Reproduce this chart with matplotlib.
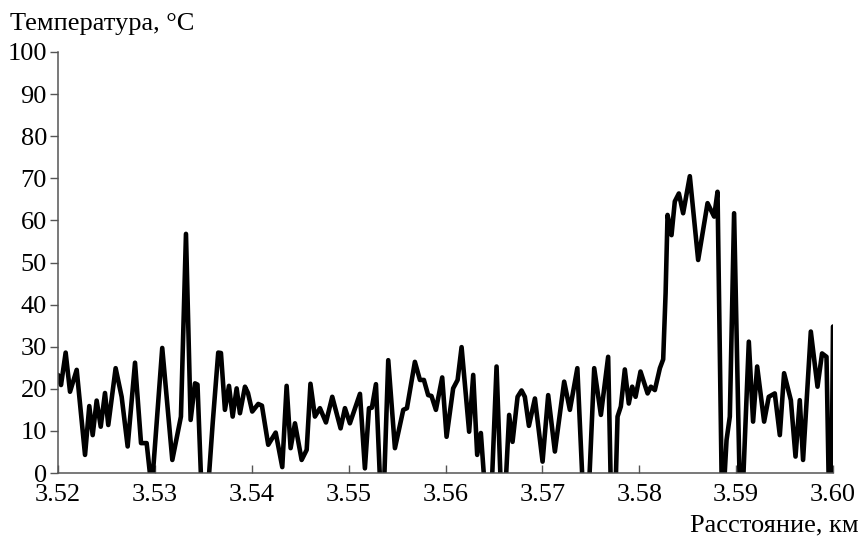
import matplotlib
matplotlib.use("Agg")
import matplotlib.pyplot as plt

plt.rcParams['font.family'] = ['Liberation Serif', 'DejaVu Serif']

# --- Профиль температуры (км, °C) ---
distance_km = [
    3.52000, 3.52031, 3.52079, 3.52124, 3.52193, 3.52279, 3.52323, 3.52358,
    3.52399, 3.52441, 3.52485, 3.52519, 3.52595, 3.52657, 3.52719, 3.52795,
    3.52857, 3.52915, 3.52967, 3.53076, 3.53180, 3.53269, 3.53321, 3.53369,
    3.53414, 3.53440, 3.53481, 3.53548, 3.53597, 3.53654, 3.53682, 3.53723,
    3.53765, 3.53803, 3.53844, 3.53878, 3.53930, 3.53961, 3.54005, 3.54067,
    3.54105, 3.54170, 3.54247, 3.54315, 3.54360, 3.54401, 3.54446, 3.54515,
    3.54567, 3.54606, 3.54652, 3.54704, 3.54766, 3.54831, 3.54917, 3.54962,
    3.55013, 3.55117, 3.55168, 3.55210, 3.55240, 3.55282, 3.55328, 3.55364,
    3.55409, 3.55478, 3.55564, 3.55602, 3.55684, 3.55736, 3.55777, 3.55821,
    3.55855, 3.55901, 3.55966, 3.56011, 3.56079, 3.56125, 3.56166, 3.56244,
    3.56286, 3.56327, 3.56365, 3.56407, 3.56476, 3.56527, 3.56572, 3.56618,
    3.56657, 3.56692, 3.56744, 3.56785, 3.56819, 3.56861, 3.56923, 3.57002,
    3.57060, 3.57129, 3.57225, 3.57284, 3.57361, 3.57418, 3.57480, 3.57535,
    3.57604, 3.57679, 3.57707, 3.57755, 3.57776, 3.57810, 3.57851, 3.57892,
    3.57927, 3.57962, 3.58013, 3.58086, 3.58120, 3.58161, 3.58213, 3.58247,
    3.58272, 3.58292, 3.58333, 3.58367, 3.58409, 3.58453, 3.58522, 3.58608,
    3.58705, 3.58773, 3.58808, 3.58852, 3.58873, 3.58901, 3.58935, 3.58979,
    3.59038, 3.59069, 3.59131, 3.59175, 3.59217, 3.59289, 3.59337, 3.59399,
    3.59451, 3.59495, 3.59565, 3.59613, 3.59657, 3.59691, 3.59771, 3.59840,
    3.59887, 3.59933, 3.59957, 3.59985, 3.60000,
]
temperature = [
    23.3, 20.9, 28.6, 19.3, 24.5, 4.3, 15.9, 9.0,
    17.2, 11.0, 19.0, 11.4, 24.9, 18.1, 6.3, 26.2,
    7.1, 7.1, -4, 29.7, 3.1, 13.4, 56.8, 12.6,
    21.3, 21.0, -4, -4, 11.9, 28.6, 28.5, 15.0,
    20.7, 13.4, 20.1, 14.2, 20.5, 19.0, 14.6, 16.4,
    16.0, 6.7, 9.6, 1.4, 20.7, 5.9, 11.8, 3.1,
    5.5, 21.2, 13.4, 15.4, 12.0, 18.1, 10.6, 15.4,
    11.8, 18.8, 1.1, 15.4, 15.5, 21.1, -4, -4,
    26.8, 5.9, 15.0, 15.4, 26.4, 22.1, 22.1, 18.5,
    18.3, 15.0, 22.7, 8.6, 20.1, 22.1, 29.9, 9.8,
    23.3, 4.3, 9.5, -4, -4, 25.3, -4, -4,
    13.8, 7.4, 18.1, 19.6, 18.1, 11.2, 17.7, 2.7,
    18.5, 5.1, 21.7, 15.0, 24.9, -4, -4, 24.9,
    13.8, 27.6, -4, -4, 13.4, 15.8, 24.6, 16.5,
    20.5, 18.1, 24.1, 18.9, 20.5, 19.7, 24.9, 27.0,
    42.7, 61.3, 56.5, 64.5, 66.4, 61.7, 70.5, 50.6,
    64.1, 60.9, 66.8, -4, -4, 7.8, 13.4, 61.7,
    -4, -4, 31.2, 12.2, 25.3, 12.2, 18.1, 18.9,
    9.0, 23.7, 17.3, 3.9, 17.3, 3.1, 33.6, 20.5,
    28.4, 27.6, -4, -4, 34.8,
]

x_ticks = [3.52, 3.53, 3.54, 3.55, 3.56, 3.57, 3.58, 3.59, 3.60]
y_ticks = [0, 10, 20, 30, 40, 50, 60, 70, 80, 90, 100]

fig = plt.figure(figsize=(8.63, 5.37), dpi=100)
ax = fig.add_axes([58 / 863, 1 - 473 / 537, 775 / 863, 421 / 537])

ax.plot(distance_km, temperature, color='black', lw=3.3,
        solid_joinstyle='round', solid_capstyle='round')

ax.set_xlim(3.52, 3.60)
ax.set_ylim(0, 100)
ax.set_xticks(x_ticks)
ax.set_xticklabels([f"{v:.2f}" for v in x_ticks])
ax.set_yticks(y_ticks)

for side in ['top', 'right']:
    ax.spines[side].set_visible(False)
for side in ['left', 'bottom']:
    ax.spines[side].set_color('#555555')
    ax.spines[side].set_linewidth(1.1)

ax.tick_params(axis='x', direction='in', length=6, width=1, color='#555555',
               labelsize=19, pad=8)
ax.tick_params(axis='y', direction='out', length=6, width=1, color='#555555',
               labelsize=19, pad=2)

fig.text(10 / 863, 1 - 30 / 537, "Температура, °C", fontsize=19,
         ha='left', va='baseline')
fig.text(859 / 863, 1 - 531 / 537, "Расстояние, км", fontsize=19,
         ha='right', va='baseline')

fig.savefig("out.png", dpi=100)
